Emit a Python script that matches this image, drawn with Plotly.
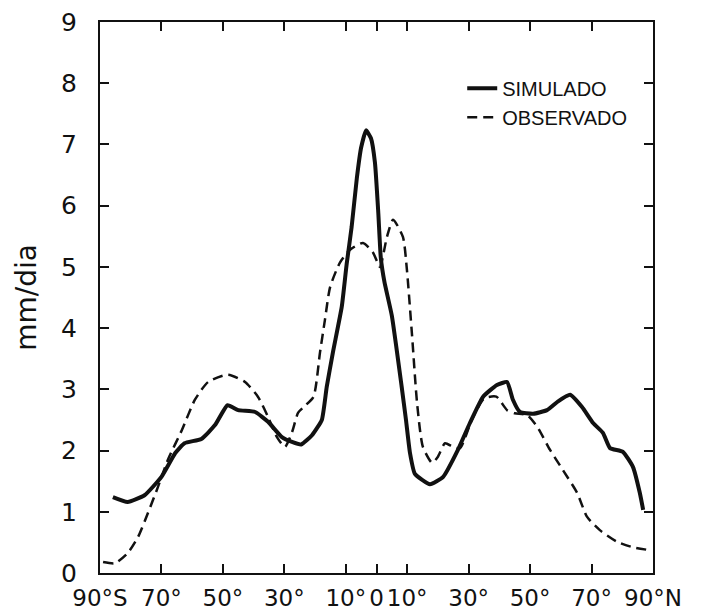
import plotly.graph_objects as go

# Data
lat_sim = [-85.8, -81, -75.5, -70, -65.5, -62.5, -57, -52.5, -48.5, -45, -39.5, -35.3,
           -30.8, -27.5, -24.5, -21, -17.8, -16.2, -14.2, -11.3, -9.7, -8.1, -6.4, -5, -3.4,
           -1.8, -0.5, 0.6, 1.4, 2.6, 5, 8.2, 9.6, 10.9, 12.5, 17.4, 21.7, 26.5, 30.4, 34.7, 39.2,
           42.5, 44.4, 46.7, 51, 55.5, 59, 63, 66.9, 70.5, 73.7, 76, 80.2, 83.5, 85.7, 86.8]
val_sim = [1.24, 1.16, 1.27, 1.57, 1.96, 2.12, 2.19, 2.42, 2.74, 2.66, 2.63, 2.47,
           2.22, 2.14, 2.10, 2.25, 2.50, 3.04, 3.60, 4.35, 5.05, 5.65, 6.45, 6.95, 7.23,
           7.10, 6.70, 5.87, 5.15, 4.75, 4.20, 3.04, 2.50, 1.96, 1.62, 1.45, 1.57, 2.01, 2.45, 2.88, 3.07,
           3.12, 2.83, 2.63, 2.60, 2.66, 2.80, 2.91, 2.71, 2.45, 2.29, 2.04, 1.98, 1.73, 1.31, 1.03]

lat_obs = [-89, -85.1, -80.9, -77.6, -74.4, -71.1, -67.9, -63.3, -59.1, -54.8, -48.3, -42.8,
           -38.6, -35.3, -32.4, -29.8, -27.5, -25.5, -23.5, -20.5, -18.4, -16.8, -15.1, -11.9,
           -8.6, -4.4, -1.1, 1.1, 3.4, 5.4, 8.6, 9.9, 11.6, 13.2, 15.1, 18.1, 20, 22.3, 24.9,
           27.2, 31, 35, 39, 42.5, 45, 49, 52.3, 56.5, 60.7, 65.3, 68.5, 72.7, 78.3, 83.5, 88]
val_obs = [0.18, 0.16, 0.33, 0.59, 0.98, 1.41, 1.85, 2.34, 2.83, 3.12, 3.24, 3.12,
           2.88, 2.55, 2.22, 2.06, 2.30, 2.62, 2.72, 2.88, 3.60, 4.13, 4.67, 5.07,
           5.28, 5.39, 5.23, 5.00, 5.49, 5.77, 5.49, 4.95, 3.86, 2.78, 2.06, 1.80, 1.90, 2.12, 2.06,
           2.04, 2.50, 2.85, 2.88, 2.66, 2.61, 2.58, 2.39, 2.01, 1.68, 1.31, 0.92, 0.70, 0.51, 0.42, 0.38]

x_tickvals = [-90, -70, -50, -30, -10, 0, 10, 30, 50, 70, 90]
x_ticktext = ["90°S", "70°", "50°", "30°", "10°", "0", "10°", "30°", "50°", "70°", "90°N"]
y_tickvals = [0, 1, 2, 3, 4, 5, 6, 7, 8, 9]

fig = go.Figure()
fig.add_trace(go.Scatter(
    x=lat_sim, y=val_sim, mode="lines", name="SIMULADO",
    line=dict(color="#111111", width=4, shape="spline", smoothing=0.45),
))
fig.add_trace(go.Scatter(
    x=lat_obs, y=val_obs, mode="lines", name="OBSERVADO",
    line=dict(color="#111111", width=2.5, dash="10px,6px", shape="spline", smoothing=0.6),
))

axis_common = dict(
    showline=True, linecolor="#111111", linewidth=2, mirror="ticks",
    ticks="inside", ticklen=9, tickwidth=2, tickcolor="#111111",
    showgrid=False, zeroline=False,
)

fig.update_xaxes(
    range=[-90, 90], tickvals=x_tickvals, ticktext=x_ticktext, tickangle=0,
    ticklabelstandoff=3,
    tickfont=dict(family="DejaVu Sans", size=23, color="#111111"),
    **axis_common,
)
fig.update_yaxes(
    range=[0, 9], tickvals=y_tickvals, ticklabelstandoff=16,
    tickfont=dict(family="DejaVu Sans", size=25, color="#111111"),
    title=dict(text="mm/dia", font=dict(family="DejaVu Sans", size=28, color="#111111"), standoff=16),
    **axis_common,
)

fig.update_layout(
    width=707, height=616,
    margin=dict(l=100, r=54, t=22, b=43, autoexpand=False),
    paper_bgcolor="white", plot_bgcolor="white",
    showlegend=True,
    legend=dict(
        x=0.655, y=0.915, xanchor="left", yanchor="top",
        font=dict(family="Liberation Sans", size=20, color="#111111"),
        bgcolor="rgba(0,0,0,0)", itemwidth=30,
    ),
)

fig.write_html("out.html")
